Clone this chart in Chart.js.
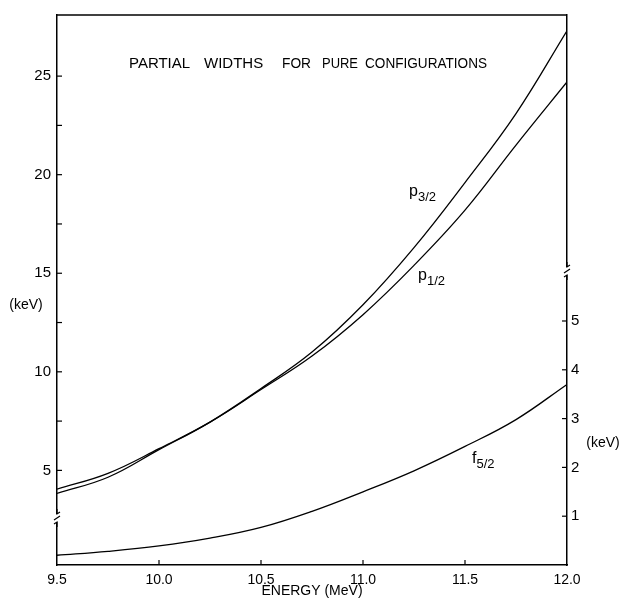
<!DOCTYPE html>
<html>
<head>
<meta charset="utf-8">
<script src="https://cdn.jsdelivr.net/npm/chart.js@4"></script>
<style>
  html, body { margin: 0; padding: 0; background: #fff; }
  #wrap { width: 621px; height: 598px; position: relative; }
</style>
</head>
<body>
<div id="wrap"><canvas id="c" width="621" height="598"></canvas></div>
<script>
// ---- data ----
const energies = [9.5, 9.75, 10.0, 10.25, 10.5, 10.75, 11.0, 11.25, 11.5, 11.75, 12.0];   // MeV
const p12Width = [4.05, 4.85, 6.1, 7.45, 9.1, 10.8, 12.9, 15.4, 18.2, 21.5, 24.7];       // keV, left axis
const p32Width = [3.83, 4.65, 6.05, 7.45, 9.15, 11.0, 13.4, 16.3, 19.6, 23.1, 27.3];     // keV, left axis
const f52Width = [0.2, 0.28, 0.39, 0.55, 0.77, 1.1, 1.5, 1.93, 2.43, 2.98, 3.7];          // keV, right axis
const xTicks = [9.5, 10.0, 10.5, 11.0, 11.5, 12.0];
const leftTicks = [5, 10, 15, 20, 25];
const leftMinorTicks = [7.5, 12.5, 17.5, 22.5];
const rightTicks = [1, 2, 3, 4, 5];
const titleWords = ["PARTIAL", "WIDTHS", "FOR", "PURE", "CONFIGURATIONS"];

const FONT = "'Liberation Sans', Arial, sans-serif";
const toPts = ys => energies.map((e, i) => ({x: e, y: ys[i]}));

const decor = {
  id: 'decor',
  afterDraw(chart) {
    const ctx = chart.ctx;
    const ca = chart.chartArea;
    const xs = chart.scales.x, yl = chart.scales.y, yr = chart.scales.y2;
    ctx.save();
    ctx.strokeStyle = '#000';
    ctx.fillStyle = '#000';
    ctx.lineWidth = 1.5;
    // top frame line
    ctx.beginPath(); ctx.moveTo(ca.left, ca.top); ctx.lineTo(ca.right, ca.top); ctx.stroke();
    ctx.lineWidth = 1.2;
    // inward ticks
    const L = 5;
    xTicks.slice(1, -1).forEach(v => {
      const px = xs.getPixelForValue(v);
      ctx.beginPath(); ctx.moveTo(px, ca.bottom); ctx.lineTo(px, ca.bottom - L); ctx.stroke();
    });
    leftTicks.concat(leftMinorTicks).forEach(v => {
      const py = yl.getPixelForValue(v);
      ctx.beginPath(); ctx.moveTo(ca.left, py); ctx.lineTo(ca.left + L, py); ctx.stroke();
    });
    rightTicks.forEach(v => {
      const py = yr.getPixelForValue(v);
      ctx.beginPath(); ctx.moveTo(ca.right, py); ctx.lineTo(ca.right - L, py); ctx.stroke();
    });
    // axis breaks
    function brk(x, y) {
      ctx.fillStyle = '#fff';
      ctx.fillRect(x - 3, y - 4, 6, 8);
      ctx.fillStyle = '#000';
      ctx.beginPath();
      ctx.moveTo(x, y - 9); ctx.lineTo(x, y - 4); ctx.lineTo(x + 3, y - 6);
      ctx.moveTo(x - 3, y + 2); ctx.lineTo(x + 3, y - 2);
      ctx.moveTo(x - 3, y + 6); ctx.lineTo(x, y + 4); ctx.lineTo(x, y + 9);
      ctx.stroke();
    }
    brk(ca.left, 518);
    brk(ca.right, 271);
    // title
    ctx.font = '15px ' + FONT;
    ctx.textBaseline = 'middle';
    ctx.textAlign = 'left';
    const starts = [129, 204, 282, 322, 365];
    const widths = [63, 66, 29, 36, 122];
    titleWords.forEach((w, i) => ctx.fillText(w, starts[i], 64, widths[i]));
    // axis titles
    ctx.font = '14px ' + FONT;
    ctx.textAlign = 'center';
    ctx.fillText('ENERGY (MeV)', (ca.left + ca.right) / 2, 591, 112);
    ctx.fillText('(keV)', 26, 305);
    ctx.fillText('(keV)', 603, 443);
    // curve labels
    function lab(main, sub, x, y) {
      ctx.textAlign = 'left';
      ctx.textBaseline = 'alphabetic';
      ctx.font = '16px ' + FONT;
      ctx.fillText(main, x, y);
      const w = ctx.measureText(main).width;
      ctx.font = '13px ' + FONT;
      ctx.fillText(sub, x + w, y + 5, 22);
    }
    lab('p', '3/2', 409, 196);
    lab('p', '1/2', 418, 280);
    lab('f', '5/2', 472, 463);
    ctx.restore();
  }
};

new Chart(document.getElementById('c'), {
  type: 'line',
  data: {
    datasets: [
      {label: 'p1/2', data: toPts(p12Width), yAxisID: 'y'},
      {label: 'p3/2', data: toPts(p32Width), yAxisID: 'y'},
      {label: 'f5/2', data: toPts(f52Width), yAxisID: 'y2'}
    ]
  },
  options: {
    responsive: false,
    animation: false,
    devicePixelRatio: 1,
    layout: {padding: {top: 8, left: 0, right: 0, bottom: 0}},
    elements: {
      line: {borderColor: '#000', borderWidth: 1.3, tension: 0.4, fill: false},
      point: {radius: 0}
    },
    plugins: {legend: {display: false}, tooltip: {enabled: false}},
    scales: {
      x: {
        type: 'linear', min: 9.5, max: 12.0,
        afterBuildTicks: s => { s.ticks = xTicks.map(v => ({value: v})); },
        afterFit: s => { s.height = 33; },
        grid: {display: true, drawOnChartArea: false, drawTicks: false},
        border: {display: true, color: '#000', width: 1.5},
        ticks: {color: '#000', padding: 7, font: {family: FONT, size: 14}, maxRotation: 0,
                callback: v => Number(v).toFixed(1)}
      },
      y: {
        type: 'linear', position: 'left', min: 0.2, max: 28.1,
        afterBuildTicks: s => { s.ticks = leftTicks.map(v => ({value: v})); },
        afterFit: s => { s.width = 57; },
        grid: {display: true, drawOnChartArea: false, drawTicks: false},
        border: {display: true, color: '#000', width: 1.5},
        ticks: {color: '#000', padding: 6, font: {family: FONT, size: 15}}
      },
      y2: {
        type: 'linear', position: 'right', min: 0, max: 11.27,
        afterBuildTicks: s => { s.ticks = rightTicks.map(v => ({value: v})); },
        afterFit: s => { s.width = 54; },
        grid: {display: true, drawOnChartArea: false, drawTicks: false},
        border: {display: true, color: '#000', width: 1.5},
        ticks: {color: '#000', padding: 4, font: {family: FONT, size: 15}}
      }
    }
  },
  plugins: [decor]
});
</script>
</body>
</html>
